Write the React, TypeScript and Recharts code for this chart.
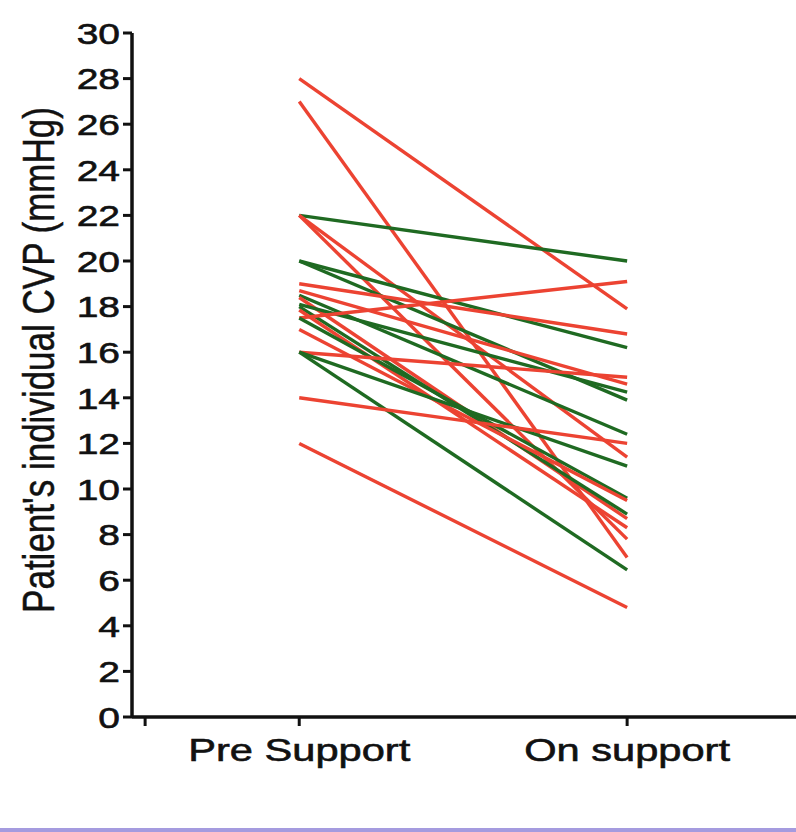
import { LineChart, Line, XAxis, YAxis } from 'recharts';

// Paired CVP readings (mmHg), one entry per patient
const categories = ['Pre Support', 'On support'];
const categoryX = [1, 2];

const preSupport = [28, 27, 22, 22, 22, 20, 20, 19, 18.7, 18.5, 18.4, 18.1, 18, 17.85, 17.5, 17.5, 17, 16, 16, 16, 14, 12];
const onSupport = [17.9, 7.0, 20.0, 11.4, 7.8, 16.2, 13.9, 16.8, 14.6, 12.4, 8.7, 14.25, 8.9, 8.3, 19.1, 9.6, 9.5, 14.9, 11.0, 6.45, 12.0, 4.8];
const group = ['r', 'r', 'g', 'r', 'r', 'g', 'g', 'r', 'r', 'g', 'r', 'g', 'g', 'r', 'r', 'g', 'r', 'r', 'g', 'g', 'r', 'r'];

const yTicks = [0, 2, 4, 6, 8, 10, 12, 14, 16, 18, 20, 22, 24, 26, 28, 30];

const RED = '#ec4332';
const GREEN = '#1f6a22';
const FONT = '"Liberation Sans", Arial, sans-serif';
const STRETCH = 1.3;

const rows = categoryX.map((x, c) => {
  const row: Record<string, number> = { x };
  preSupport.forEach((_, i) => {
    row[`p${i}`] = c === 0 ? preSupport[i] : onSupport[i];
  });
  return row;
});

const textStyle = { fontFamily: FONT, fill: '#111', stroke: '#111', strokeWidth: 0.6 };

function YTick({ x, y, payload }: any) {
  return (
    <text
      transform={`translate(${x},${y}) scale(${STRETCH},1)`}
      textAnchor="end"
      dy="0.36em"
      fontSize={30}
      {...textStyle}
    >
      {payload.value}
    </text>
  );
}

function XTick({ x, y, payload }: any) {
  const idx = categoryX.indexOf(payload.value);
  const label = idx >= 0 ? categories[idx] : '';
  return (
    <text
      transform={`translate(${x},${y + 33}) scale(${STRETCH},1)`}
      textAnchor="middle"
      fontSize={32}
      {...textStyle}
    >
      {label}
    </text>
  );
}

function YLabel() {
  return (
    <text
      transform={`translate(54,360) rotate(-90) scale(1,1.28)`}
      textAnchor="middle"
      fontSize={35}
      {...textStyle}
      strokeWidth={0.4}
    >
      Patient's individual CVP (mmHg)
    </text>
  );
}

export default function App() {
  return (
    <div style={{ position: 'absolute', left: 0, top: 0, width: 796, height: 832, background: '#fff' }}>
      <LineChart width={796} height={826} data={rows} margin={{ top: 33, right: 0, bottom: 0, left: 0 }}>
        <XAxis
          type="number"
          dataKey="x"
          domain={[0.49, 2.515]}
          ticks={[0.53, 1, 2]}
          allowDataOverflow
          height={109}
          tickSize={9}
          tickMargin={2}
          axisLine={{ stroke: '#111', strokeWidth: 3.5 }}
          tickLine={{ stroke: '#111', strokeWidth: 3 }}
          tick={(props: any) => <XTick {...props} />}
        />
        <YAxis
          type="number"
          domain={[0, 30]}
          ticks={yTicks}
          interval={0}
          width={132}
          tickSize={9}
          tickMargin={3}
          axisLine={{ stroke: '#111', strokeWidth: 3.5 }}
          tickLine={{ stroke: '#111', strokeWidth: 3 }}
          tick={(props: any) => <YTick {...props} />}
          label={<YLabel />}
        />
        {preSupport.map((_, i) => (
          <Line
            key={i}
            type="linear"
            dataKey={`p${i}`}
            stroke={group[i] === 'g' ? GREEN : RED}
            strokeWidth={3.4}
            dot={false}
            activeDot={false}
            isAnimationActive={false}
          />
        ))}
      </LineChart>
      <div style={{ position: 'absolute', left: 0, top: 828, width: 796, height: 4, background: '#a59bdf' }} />
    </div>
  );
}
